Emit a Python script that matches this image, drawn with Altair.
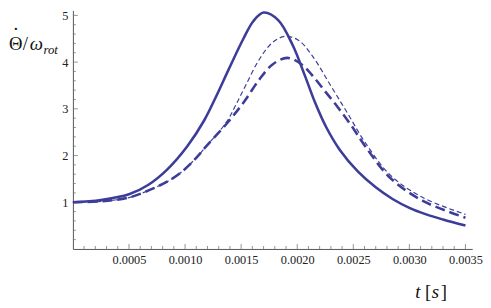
import altair as alt
import pandas as pd

# ---- data ----
t_solid = [0.0, 0.00025, 0.0005, 0.00067, 0.00084, 0.00102, 0.00117, 0.00128, 0.00139,
           0.00152, 0.00161, 0.0017, 0.00183, 0.00196, 0.00207, 0.00216, 0.00226, 0.00238,
           0.00254, 0.0027, 0.00285, 0.003, 0.00315, 0.0033, 0.0035]
v_solid = [1.0, 1.05, 1.17, 1.37, 1.70, 2.2, 2.75, 3.28, 3.85,
           4.5, 4.88, 5.06, 4.9, 4.36, 3.7, 3.13, 2.6, 2.12,
           1.66, 1.32, 1.07, 0.88, 0.74, 0.63, 0.5]

t_thick = [0.0, 0.00025, 0.0005, 0.00069, 0.00084, 0.00096, 0.00108, 0.00119, 0.00137,
           0.00152, 0.00166, 0.00178, 0.00191, 0.00204, 0.00214, 0.00224, 0.00236, 0.00248,
           0.00262, 0.00283, 0.00312, 0.0035]
v_thick = [1.0, 1.02, 1.1, 1.27, 1.44, 1.63, 1.9, 2.2, 2.68,
           3.13, 3.62, 3.95, 4.09, 3.95, 3.7, 3.4, 3.04, 2.65,
           2.15, 1.52, 1.03, 0.67]

t_thin = [0.0, 0.00025, 0.0005, 0.00069, 0.00084, 0.00096, 0.00108, 0.00119, 0.00137,
          0.00145, 0.00154, 0.00166, 0.00178, 0.00189, 0.00201, 0.00213, 0.00231, 0.00245,
          0.0026, 0.00283, 0.00312, 0.0035]
v_thin = [1.0, 1.02, 1.1, 1.27, 1.44, 1.63, 1.9, 2.2, 2.72,
          3.07, 3.5, 4.05, 4.42, 4.55, 4.47, 4.15, 3.45, 2.9,
          2.3, 1.58, 1.1, 0.74]

x_major = [0.0005, 0.0010, 0.0015, 0.0020, 0.0025, 0.0030, 0.0035]
x_minor = [0.0001, 0.0002, 0.0003, 0.0004, 0.0006, 0.0007, 0.0008, 0.0009,
           0.0011, 0.0012, 0.0013, 0.0014, 0.0016, 0.0017, 0.0018, 0.0019,
           0.0021, 0.0022, 0.0023, 0.0024, 0.0026, 0.0027, 0.0028, 0.0029,
           0.0031, 0.0032, 0.0033, 0.0034]
y_major = [1, 2, 3, 4, 5]
y_minor = [0.2, 0.4, 0.6, 0.8, 1.2, 1.4, 1.6, 1.8, 2.2, 2.4, 2.6, 2.8,
           3.2, 3.4, 3.6, 3.8, 4.2, 4.4, 4.6, 4.8]

ylab_theta = ["Θ"]
ylab_dot = ["·"]
ylab_slash = ["/"]
ylab_omega = ["ω"]
ylab_sub = ["rot"]
xlab_parts = ["t", "[", "s", "]"]

# ---- styling ----
W, H = 406, 242.5
COLOR = "#3d3d99"
AXC = "#555555"
TICKC = "#777777"
FONT = "Liberation Serif, DejaVu Serif, Times New Roman, serif"

xs = alt.Scale(domain=[0, 0.00356], nice=False, zero=False)
ys = alt.Scale(domain=[0, 5.105], nice=False, zero=False)

x_axis = alt.Axis(values=x_major, format=".4f", ticks=False, tickSize=0, grid=False,
                  domainColor=AXC, domainWidth=1, labelFont=FONT, labelFontSize=12.5,
                  labelColor="#222222", labelPadding=5, title=None,
                  labelFlush=False, labelOverlap=False)
y_axis = alt.Axis(values=y_major, format="d", ticks=False, tickSize=0, grid=False,
                  domainColor=AXC, domainWidth=1, labelFont=FONT, labelFontSize=12.5,
                  labelColor="#222222", labelPadding=5, title=None,
                  labelFlush=False, labelOverlap=False)

X = lambda: alt.X("t:Q", scale=xs, axis=x_axis)
Y = lambda: alt.Y("v:Q", scale=ys, axis=y_axis)


def curve(t, v, width, dash=None):
    kw = dict(color=COLOR, strokeWidth=width, interpolate="catmull-rom")
    if dash:
        kw["strokeDash"] = dash
    return alt.Chart(pd.DataFrame({"t": t, "v": v})).mark_line(**kw).encode(x=X(), y=Y())


def xticks(vals, length):
    return alt.Chart(pd.DataFrame({"t": vals})).mark_rule(color=TICKC, strokeWidth=0.8).encode(
        x=X(), y=alt.value(H), y2=alt.value(H - length))


def yticks(vals, length):
    return alt.Chart(pd.DataFrame({"v": vals})).mark_rule(color=TICKC, strokeWidth=0.8).encode(
        y=Y(), x=alt.value(0), x2=alt.value(length))


def label(txt, x, y, size, italic=False, align="left"):
    return alt.Chart(pd.DataFrame({"s": txt})).mark_text(
        font=FONT, fontSize=size, fontStyle="italic" if italic else "normal",
        align=align, baseline="alphabetic", color="#111111").encode(
        text="s:N", x=alt.value(x), y=alt.value(y))


layers = [
    xticks(x_minor, 3), xticks(x_major, 5),
    yticks(y_minor, 3), yticks(y_major, 5),
    curve(t_thin, v_thin, 1.2, [5, 3]),
    curve(t_thick, v_thick, 2.6, [10, 5]),
    curve(t_solid, v_solid, 2.6),
    label(ylab_theta, -65, 40, 19),
    label(ylab_dot, -58, 25, 19, align="center"),
    label(ylab_slash, -51, 40, 19),
    label(ylab_omega, -44, 40, 19, True),
    label(ylab_sub, -30, 44, 13, True),
    label([xlab_parts[0]], 348, 292, 19, True),
    label([xlab_parts[1]], 358, 292, 19),
    label([xlab_parts[2]], 365, 292, 19, True),
    label([xlab_parts[3]], 374, 292, 19),
]

chart = alt.layer(*layers).properties(
    width=W, height=H,
    autosize=alt.AutoSizeParams(type="none"),
    padding={"left": 66, "top": 0, "right": 11, "bottom": 57},
).configure_view(stroke=None)

chart.save("out.html", embed_options={"renderer": "svg", "actions": False})
